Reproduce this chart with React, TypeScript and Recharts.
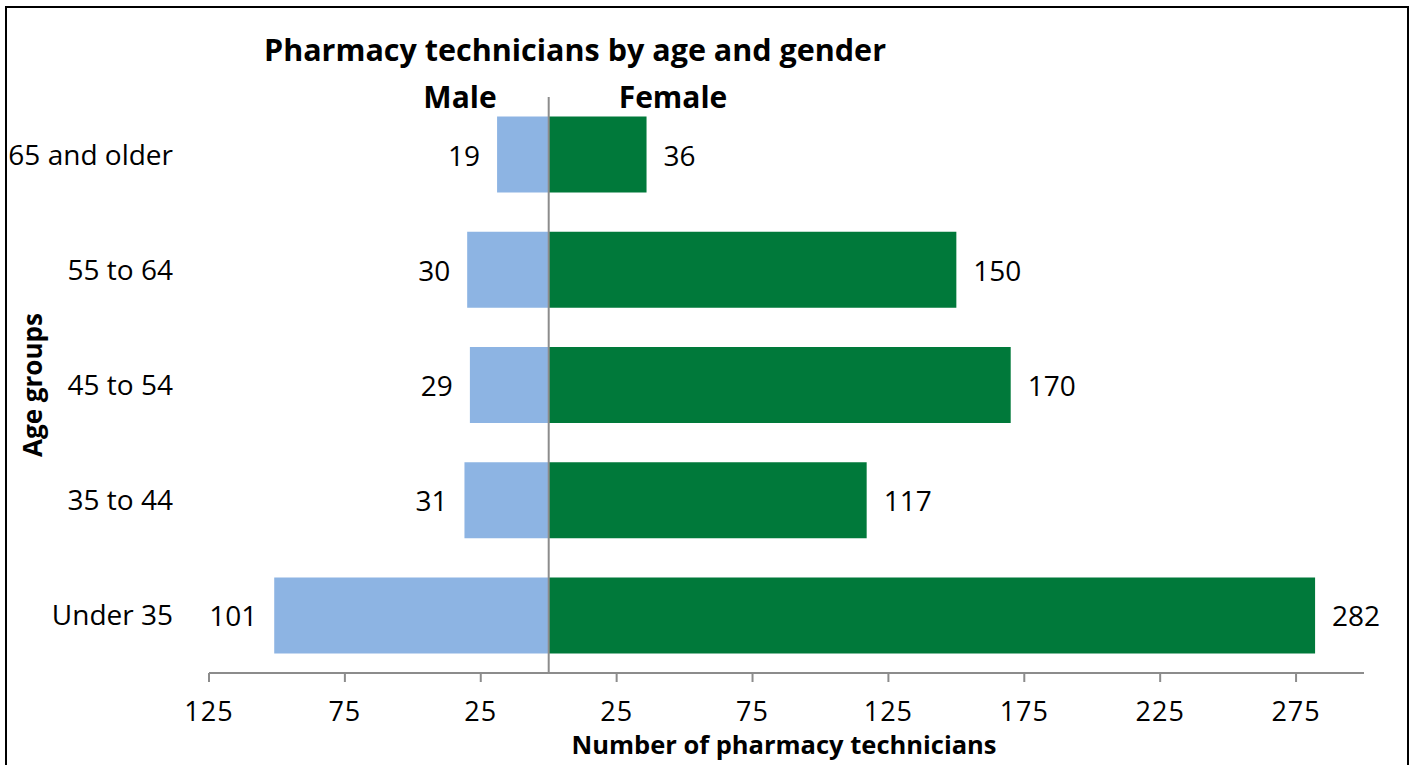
import React from 'react';
import { BarChart, Bar, XAxis, YAxis, ReferenceLine, LabelList } from 'recharts';

const ageGroups = ['65 and older', '55 to 64', '45 to 54', '35 to 44', 'Under 35'];
const maleValues = [19, 30, 29, 31, 101];
const femaleValues = [36, 150, 170, 117, 282];
const xTicks = [-125, -75, -25, 25, 75, 125, 175, 225, 275];
const xDomain: [number, number] = [-125, 300];

const chartTitle = 'Pharmacy technicians by age and gender';
const maleName = 'Male';
const femaleName = 'Female';
const xTitle = 'Number of pharmacy technicians';
const yTitle = 'Age groups';

const data = ageGroups.map((age, i) => ({
  age,
  male: -maleValues[i],
  female: femaleValues[i],
}));

const FONT = '"Open Sans", "Liberation Sans", sans-serif';
const MALE_COLOR = '#8DB4E3';
const FEMALE_COLOR = '#00793A';
const GRID = '#8C8C8C';

const MaleLabel = (props: any) => {
  const { x, y, width, height, value } = props;
  const left = Math.min(Number(x), Number(x) + Number(width));
  return (
    <text x={left - 17} y={Number(y) + Number(height) / 2 + 11} textAnchor="end" fontSize={28} fontFamily={FONT} fill="#000">
      {Math.abs(Number(value))}
    </text>
  );
};

const FemaleLabel = (props: any) => {
  const { x, y, width, height, value } = props;
  const right = Math.max(Number(x), Number(x) + Number(width));
  return (
    <text x={right + 17} y={Number(y) + Number(height) / 2 + 11} textAnchor="start" fontSize={28} fontFamily={FONT} fill="#000">
      {Math.abs(Number(value))}
    </text>
  );
};

export default function App() {
  return (
    <div style={{ position: 'absolute', left: 0, top: 0, width: 1413, height: 765, overflow: 'hidden', background: '#fff' }}>
      <div
        style={{
          position: 'absolute',
          left: 5,
          top: 6,
          width: 1404,
          height: 800,
          border: '2px solid #000',
          boxSizing: 'border-box',
        }}
      />
      <div style={{ position: 'absolute', left: 0, top: 0 }}>
        <BarChart
          width={1413}
          height={765}
          data={data}
          layout="vertical"
          stackOffset="sign"
          barCategoryGap="17%"
          margin={{ top: 97, right: 49, bottom: 32, left: 0 }}
        >
          <XAxis
            type="number"
            domain={xDomain}
            ticks={xTicks}
            interval={0}
            allowDataOverflow
            height={60}
            tickFormatter={(v: number) => String(Math.abs(v))}
            axisLine={{ stroke: GRID, strokeWidth: 2 }}
            tickLine={{ stroke: GRID, strokeWidth: 2 }}
            tickSize={9}
            tickMargin={20}
            tick={{ fill: '#000', fontSize: 27, fontFamily: FONT, letterSpacing: 1 }}
          />
          <YAxis
            type="category"
            dataKey="age"
            width={209}
            axisLine={false}
            tickLine={false}
            tickSize={0}
            tickMargin={36}
            tick={{ fill: '#000', fontSize: 28, fontFamily: FONT }}
          />
          <Bar dataKey="male" stackId="a" fill={MALE_COLOR} isAnimationActive={false}>
            <LabelList dataKey="male" content={MaleLabel} />
          </Bar>
          <Bar dataKey="female" stackId="a" fill={FEMALE_COLOR} isAnimationActive={false}>
            <LabelList dataKey="female" content={FemaleLabel} />
          </Bar>
          <ReferenceLine x={0} stroke={GRID} strokeWidth={2} />
        </BarChart>
      </div>
      <svg
        width={1413}
        height={765}
        style={{ position: 'absolute', left: 0, top: 0, pointerEvents: 'none' }}
      >
        <text x={575} y={61} textAnchor="middle" fontSize={30.5} fontWeight="bold" fontFamily={FONT} fill="#000">
          {chartTitle}
        </text>
        <text x={460} y={108} textAnchor="middle" fontSize={30} fontWeight="bold" fontFamily={FONT} fill="#000">
          {maleName}
        </text>
        <text x={673} y={108} textAnchor="middle" fontSize={30} fontWeight="bold" fontFamily={FONT} fill="#000">
          {femaleName}
        </text>
        <text x={784} y={754} textAnchor="middle" fontSize={25.5} fontWeight="bold" fontFamily={FONT} fill="#000">
          {xTitle}
        </text>
        <text
          x={42}
          y={385}
          textAnchor="middle"
          fontSize={26}
          fontWeight="bold"
          fontFamily={FONT}
          fill="#000"
          transform="rotate(-90, 42, 385)"
        >
          {yTitle}
        </text>
      </svg>
    </div>
  );
}
